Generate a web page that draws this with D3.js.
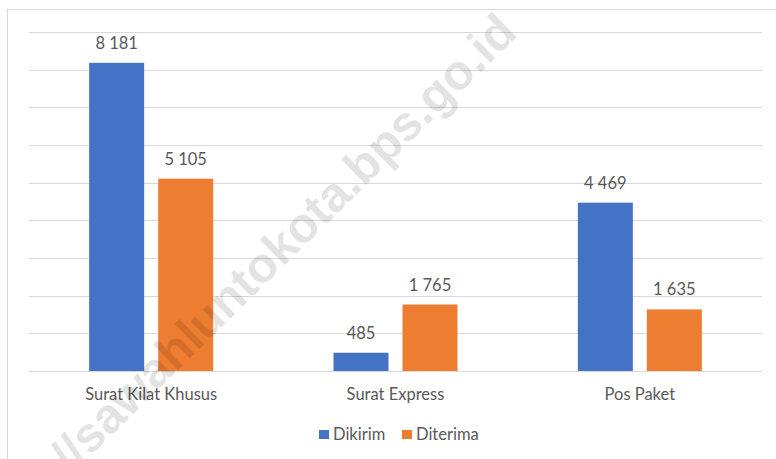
<!DOCTYPE html>
<html>
<head>
<meta charset="utf-8">
<script src="https://cdn.jsdelivr.net/npm/d3@7"></script>
<style>
  html, body { margin: 0; padding: 0; background: #fff; }
  svg { display: block; }
  text { font-family: Lato, "Open Sans", sans-serif; fill: #595959; }
</style>
</head>
<body>
<div id="chart"></div>
<script>
const categories = ['Surat Kilat Khusus', 'Surat Express', 'Pos Paket']
const seriesNames = ['Dikirim', 'Diterima']
const dikirim = [8181, 485, 4469]
const diterima = [5105, 1765, 1635]
const yTicks = [0, 1000, 2000, 3000, 4000, 5000, 6000, 7000, 8000, 9000]
const colors = ['#4472c4', '#ed7d31']

const width = 776
const height = 459
const margin = { top: 32, right: 14, bottom: 88, left: 29 }
const fontSize = '16.5px'

const fmt = (v) => d3.format(',')(v).replace(/,/g, ' ')

const svg = d3.select('#chart').append('svg').attr('width', width).attr('height', height)

// outer chart frame
svg.append('rect')
  .attr('x', 7.5).attr('y', 9.5)
  .attr('width', 800).attr('height', 500)
  .attr('fill', 'none').attr('stroke', '#d9d9d9')

const innerW = width - margin.left - margin.right
const innerH = height - margin.top - margin.bottom

const g = svg.append('g').attr('transform', `translate(${margin.left},${margin.top})`)

const x = d3.scaleBand().domain(categories).range([0, innerW]).paddingInner(0).paddingOuter(0)
const xInner = d3.scaleBand().domain(seriesNames).range([0, 124]).paddingInner(0.203)
const y = d3.scaleLinear().domain([0, 9000]).range([innerH, 0])

g.append('g')
  .selectAll('line')
  .data(yTicks)
  .join('line')
  .attr('x1', 0).attr('x2', innerW)
  .attr('y1', (d) => Math.round(y(d)) + 0.5)
  .attr('y2', (d) => Math.round(y(d)) + 0.5)
  .attr('stroke', '#d9d9d9')

const rows = []
categories.forEach((c, i) => {
  rows.push({ cat: c, series: 'Dikirim', value: dikirim[i], color: colors[0] })
  rows.push({ cat: c, series: 'Diterima', value: diterima[i], color: colors[1] })
})

const groupOffset = (x.bandwidth() - 124) / 2

g.append('g')
  .selectAll('rect')
  .data(rows)
  .join('rect')
  .attr('x', (d) => x(d.cat) + groupOffset + xInner(d.series))
  .attr('y', (d) => y(d.value))
  .attr('width', xInner.bandwidth())
  .attr('height', (d) => innerH - y(d.value))
  .attr('fill', (d) => d.color)

g.append('g')
  .selectAll('text')
  .data(rows)
  .join('text')
  .attr('x', (d) => x(d.cat) + groupOffset + xInner(d.series) + xInner.bandwidth() / 2)
  .attr('y', (d) => y(d.value) - 14)
  .attr('text-anchor', 'middle')
  .style('font-size', fontSize)
  .text((d) => fmt(d.value))

g.append('g')
  .selectAll('text')
  .data(categories)
  .join('text')
  .attr('x', (d) => x(d) + x.bandwidth() / 2)
  .attr('y', innerH + 29)
  .attr('text-anchor', 'middle')
  .style('font-size', fontSize)
  .text((d) => d)

// legend
const legend = svg.append('g').attr('transform', 'translate(319,430)')
const legendX = [0, 83]
seriesNames.forEach((s, i) => {
  const item = legend.append('g').attr('transform', `translate(${legendX[i]},0)`)
  item.append('rect').attr('width', 10).attr('height', 9).attr('fill', colors[i])
  item.append('text').attr('x', 14).attr('y', 9.5).style('font-size', fontSize).text(s)
})

// watermark (runs off the bottom edge, as in the source image)
svg.append('text')
  .attr('transform', 'translate(283,243) rotate(-44.5)')
  .attr('text-anchor', 'middle')
  .attr('dominant-baseline', 'central')
  .style('font-family', '"Liberation Sans", Arial, sans-serif')
  .style('font-weight', 'bold')
  .style('font-size', '49px')
  .style('fill', '#000')
  .style('fill-opacity', 0.11)
  .text('//sawahluntokota.bps.go.id')
</script>
</body>
</html>
